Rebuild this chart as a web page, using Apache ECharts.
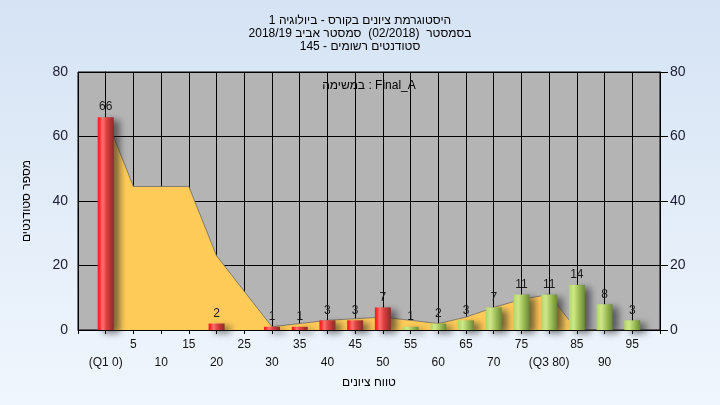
<!DOCTYPE html>
<html><head><meta charset="utf-8">
<script src="https://cdn.jsdelivr.net/npm/echarts@6/dist/echarts.min.js"></script>
<style>html,body{margin:0;padding:0;background:#e4edf9}#c{width:720px;height:405px}</style>
</head><body><div id="c"></div>
<script>
// ---- data ----
const scoreBins = [0,5,10,15,20,25,30,35,40,45,50,55,60,65,70,75,80,85,90,95];
const studentCounts = [66,0,0,0,2,0,1,1,3,3,7,1,2,3,7,11,11,14,8,3];
const trendValues = [66,44.5,44.5,44.5,23,12,1,2,3,3.5,4,3,2,4,7,9.5,11,0,0,0];
const xTickLabels = ['(Q1 0)','5','10','15','20','25','30','35','40','45','50','55','60','65','70','75','(Q3 80)','85','90','95'];
const yTicks = [0,20,40,60,80];
const titleLines = ['היסטוגרמת ציונים בקורס - ביולוגיה 1','בסמסטר  (02/2018)  סמסטר אביב 2018/19','סטודנטים רשומים - 145'];
const taskLabel = 'Final_A : במשימה';
const yAxisName = 'מספר סטודנטים';
const xAxisName = 'טווח ציונים';
const passThreshold = 55;

// ---- helpers ----
const FONT = 'Liberation Sans, Arial, sans-serif';
const rtl = s => '\u202B' + s + '\u202C';
const redGrad = new echarts.graphic.LinearGradient(0,0,1,0,[
  {offset:0,color:'#ff1c1c'},{offset:0.12,color:'#ff2a2a'},{offset:0.3,color:'#ff7272'},
  {offset:0.55,color:'#e04040'},{offset:1,color:'#8a2a2a'}]);
const greenGrad = new echarts.graphic.LinearGradient(0,0,1,0,[
  {offset:0,color:'#b2d466'},{offset:0.3,color:'#cfe78a'},{offset:0.6,color:'#a2c25a'},
  {offset:1,color:'#6a8836'}]);

const barData = [];
scoreBins.forEach((b,i)=>{
  if (studentCounts[i] > 0) {
    barData.push({value:[b, studentCounts[i]], itemStyle:{color: b < passThreshold ? redGrad : greenGrad}});
  }
});
const areaData = scoreBins.map((b,i)=>[b, trendValues[i]]);

const yMin = yTicks[0], yMax = yTicks[yTicks.length-1], yStep = yTicks[1]-yTicks[0];

const chart = echarts.init(document.getElementById('c'), null, {renderer:'canvas'});
chart.setOption({
  animation:false,
  backgroundColor: new echarts.graphic.LinearGradient(0,0,0,1,[
    {offset:0,color:'#d5e3f4'},{offset:1,color:'#f0f6fd'}]),
  textStyle:{fontFamily:FONT},
  title:{
    text: titleLines.map(rtl).join('\n'),
    left:'center', top:9,
    textStyle:{fontSize:12, fontWeight:'normal', color:'#000', lineHeight:13, fontFamily:FONT}
  },
  graphic:[{
    type:'text', x:369, y:86, z:100,
    style:{text: rtl(taskLabel), font:'12px ' + FONT, fill:'#000',
      align:'center', verticalAlign:'middle', textAlign:'center', textVerticalAlign:'middle'}
  }],
  grid:{left:78, right:60, top:72, bottom:75, show:true, backgroundColor:'#b4b4b4', borderColor:'#000', borderWidth:1},
  xAxis:{
    type:'value', min:-5, max:100, interval:5,
    axisLine:{show:true, onZero:false, lineStyle:{color:'#000'}},
    axisTick:{show:true, length:4, lineStyle:{color:'#000'}},
    splitLine:{show:true, lineStyle:{color:'#000', width:1}},
    axisLabel:{
      fontSize:12, color:'#111', lineHeight:18, margin:6, fontFamily:FONT,
      showMinLabel:true, showMaxLabel:true,
      formatter:(v)=>{
        const i = scoreBins.indexOf(Math.round(v));
        if (i < 0) return '';
        return i % 2 === 1 ? xTickLabels[i] : '\n' + xTickLabels[i];
      }
    },
    name: rtl(xAxisName), nameLocation:'middle', nameGap:51,
    nameTextStyle:{fontSize:12, color:'#000', verticalAlign:'middle', fontFamily:FONT}
  },
  yAxis:[{
    type:'value', min:yMin, max:yMax, interval:yStep, position:'left',
    axisLine:{show:true, lineStyle:{color:'#000'}},
    axisTick:{show:true, length:8, lineStyle:{color:'#000'}},
    splitLine:{show:true, lineStyle:{color:'#000', width:1}},
    axisLabel:{fontSize:14, color:'#1c1c30', margin:10, fontFamily:FONT},
    name: rtl(yAxisName), nameLocation:'middle', nameGap:45,
    nameTextStyle:{fontSize:12, color:'#000', fontFamily:FONT}
  },{
    type:'value', min:yMin, max:yMax, interval:yStep, position:'right',
    axisLine:{show:true, lineStyle:{color:'#000'}},
    axisTick:{show:true, length:8, lineStyle:{color:'#000'}},
    splitLine:{show:false},
    axisLabel:{fontSize:14, color:'#1c1c30', margin:10, fontFamily:FONT}
  }],
  series:[{
    type:'line', data:areaData, yAxisIndex:0, z:1, symbol:'none', smooth:false,
    lineStyle:{color:'#6a6a6a', width:0.8},
    areaStyle:{color:'#ffcb58', opacity:1}
  },{
    type:'bar', data:barData, yAxisIndex:0, z:3, barWidth:16,
    itemStyle:{shadowColor:'rgba(30,30,30,0.6)', shadowBlur:7, shadowOffsetX:6, shadowOffsetY:3},
    label:{show:true, position:'top', distance:4, fontSize:12, color:'#1a1a1a', fontFamily:FONT}
  }]
});
</script>
</body></html>
